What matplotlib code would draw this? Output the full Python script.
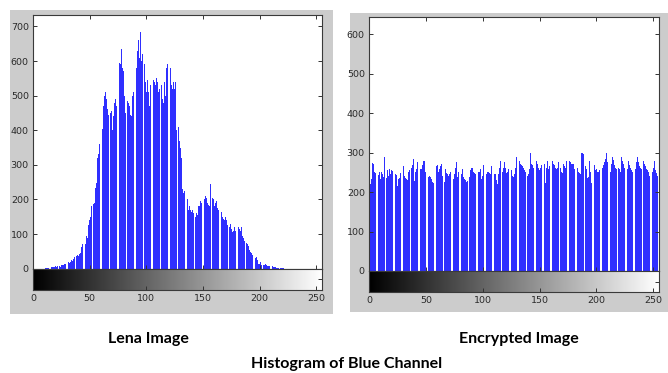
import numpy as np
import matplotlib
matplotlib.use("Agg")
import matplotlib.pyplot as plt
from matplotlib.patches import Rectangle

# pixel counts per grey level (0..255)
lena_blue = [
    0, 0, 0, 0, 0, 0, 0, 0, 0, 0,
    0, 1, 2, 1, 2, 3, 4, 5, 4, 6,
    7, 5, 8, 9, 6, 10, 12, 11, 14, 13,
    15, 18, 16, 20, 24, 22, 28, 33, 36, 40,
    38, 42, 44, 62, 70, 75, 72, 95, 88, 125,
    140, 148, 180, 188, 190, 232, 248, 320, 330, 360,
    395, 405, 470, 500, 510, 490, 460, 445, 450, 455,
    400, 440, 480, 490, 470, 560, 595, 590, 635, 580,
    570, 500, 450, 485, 480, 470, 445, 440, 500, 510,
    575, 580, 630, 660, 610, 683, 600, 620, 590, 540,
    510, 545, 510, 470, 530, 610, 545, 540, 530, 550,
    540, 510, 520, 530, 490, 480, 540, 500, 580, 590,
    620, 580, 530, 520, 540, 520, 540, 400, 410, 370,
    350, 320, 230, 220, 225, 215, 200, 170, 180, 170,
    165, 170, 160, 150, 160, 155, 180, 180, 195, 190,
    185, 200, 210, 205, 190, 185, 180, 245, 205, 200,
    180, 190, 195, 175, 170, 160, 165, 150, 145, 140,
    150, 140, 125, 120, 130, 115, 105, 110, 120, 110,
    100, 120, 115, 110, 120, 95, 90, 80, 75, 70,
    65, 55, 48, 45, 40, 35, 30, 35, 25, 15,
    15, 18, 12, 10, 11, 13, 10, 8, 7, 8,
    6, 8, 5, 4, 5, 3, 3, 2, 3, 2,
    1, 1, 0, 0, 0, 0, 0, 0, 0, 0,
    0, 0, 0, 0, 0, 0, 0, 0, 0, 0,
    0, 0, 0, 0, 0, 0, 0, 0, 0, 0,
    0, 0, 0, 0, 0, 0,
]

encrypted_blue = [
    225, 220, 232, 273, 270, 250, 248, 262, 244, 252, 232, 250, 245, 238, 290, 236,
    255, 240, 258, 246, 255, 254, 240, 245, 244, 215, 232, 235, 248, 250, 265, 240,
    236, 232, 230, 252, 255, 260, 268, 284, 228, 250, 258, 275, 262, 258, 258, 268,
    280, 278, 250, 218, 238, 240, 238, 232, 225, 222, 272, 266, 268, 250, 258, 265,
    270, 240, 225, 258, 248, 245, 240, 245, 250, 244, 232, 245, 260, 275, 238, 250,
    236, 246, 258, 238, 234, 230, 225, 228, 238, 255, 260, 262, 250, 248, 245, 270,
    250, 252, 258, 232, 240, 268, 238, 245, 250, 252, 248, 245, 265, 250, 246, 245,
    230, 220, 245, 260, 278, 250, 262, 276, 260, 248, 252, 258, 278, 255, 240, 238,
    245, 262, 290, 285, 280, 270, 268, 265, 262, 255, 250, 240, 246, 258, 298, 270,
    268, 260, 290, 278, 272, 262, 255, 262, 268, 258, 270, 222, 260, 280, 258, 265,
    270, 280, 272, 268, 260, 258, 262, 275, 260, 252, 248, 270, 265, 262, 280, 275,
    278, 275, 272, 272, 270, 258, 265, 262, 250, 248, 245, 298, 300, 296, 265, 258,
    235, 238, 278, 250, 222, 255, 268, 255, 258, 252, 250, 255, 258, 262, 268, 276,
    285, 298, 275, 265, 250, 270, 290, 282, 268, 262, 258, 262, 258, 252, 288, 280,
    272, 262, 255, 258, 278, 268, 262, 255, 252, 250, 258, 275, 288, 275, 265, 260,
    258, 280, 270, 265, 258, 255, 252, 240, 232, 250, 262, 278, 255, 248, 240, 300,
]

captions = ["Lena Image", "Encrypted Image"]
title = "Histogram of Blue Channel"

W, H = 668, 373
fig = plt.figure(figsize=(W / 100, H / 100), dpi=100)
fig.patch.set_facecolor("white")

def px(x0, y0, x1, y1):
    # pixel box (top-left origin) -> figure fraction rect
    return [x0 / W, (H - y1) / H, (x1 - x0) / W, (y1 - y0) / H]

# grey MATLAB-like figure panels, kept behind the axes
for box in [(10, 10, 333, 314), (350, 13, 668, 312)]:
    r = px(*box)
    fig.patches.append(Rectangle((r[0], r[1]), r[2], r[3], transform=fig.transFigure,
                                 facecolor="#cccccc", edgecolor="none", zorder=-10))

panels = [
    (lena_blue, (33, 15, 322, 268.7), 733, [0, 100, 200, 300, 400, 500, 600, 700]),
    (encrypted_blue, (369, 17.3, 659, 271), 643, [0, 100, 200, 300, 400, 500, 600]),
]

bins = np.arange(256)
gradient = np.linspace(0, 1, 256).reshape(1, -1)
tick_col = "#2a2a2a"

for counts, (x0, y0, x1, y1), ytop, yt in panels:
    ax = fig.add_axes(px(x0, y0, x1, y1), zorder=1)
    ax.set_facecolor("white")
    ax.bar(bins, counts, width=0.8, color="#2f2fff", linewidth=0, align="center")
    ax.set_xlim(0, 255)
    ax.set_ylim(0, ytop)
    ax.set_yticks(yt)
    ax.set_xticks([0, 50, 100, 150, 200, 250])
    ax.tick_params(direction="in", length=3, width=0.7, top=True, right=True,
                   labelbottom=False, labelsize=6.8, labelcolor=tick_col, color="#333333", pad=3)
    for s in ax.spines.values():
        s.set_color("#3a3a3a")
        s.set_linewidth(0.8)

    cax = fig.add_axes(px(x0, y1, x1, y1 + 21.3), zorder=1)
    cax.imshow(gradient, cmap="gray", aspect="auto", extent=[0, 255, 0, 1])
    cax.set_xlim(0, 255)
    cax.set_ylim(0, 1)
    cax.set_xticks([0, 50, 100, 150, 200, 250])
    cax.set_yticks([0.5])
    cax.tick_params(direction="in", length=3, width=0.7, left=False, right=True,
                    labelleft=False, labelsize=6.8, labelcolor=tick_col, color="#333333", pad=3)
    for s in cax.spines.values():
        s.set_color("#3a3a3a")
        s.set_linewidth(0.8)

fig.text(148 / W, (H - 339) / H, captions[0], ha="center", va="center",
         fontsize=11.5, fontweight="bold", family="Lato")
fig.text(519 / W, (H - 339) / H, captions[1], ha="center", va="center",
         fontsize=11.5, fontweight="bold", family="Lato")
fig.text(347 / W, (H - 364) / H, title, ha="center", va="center",
         fontsize=11.5, fontweight="bold", family="Lato")

fig.savefig("out.png", dpi=100)
